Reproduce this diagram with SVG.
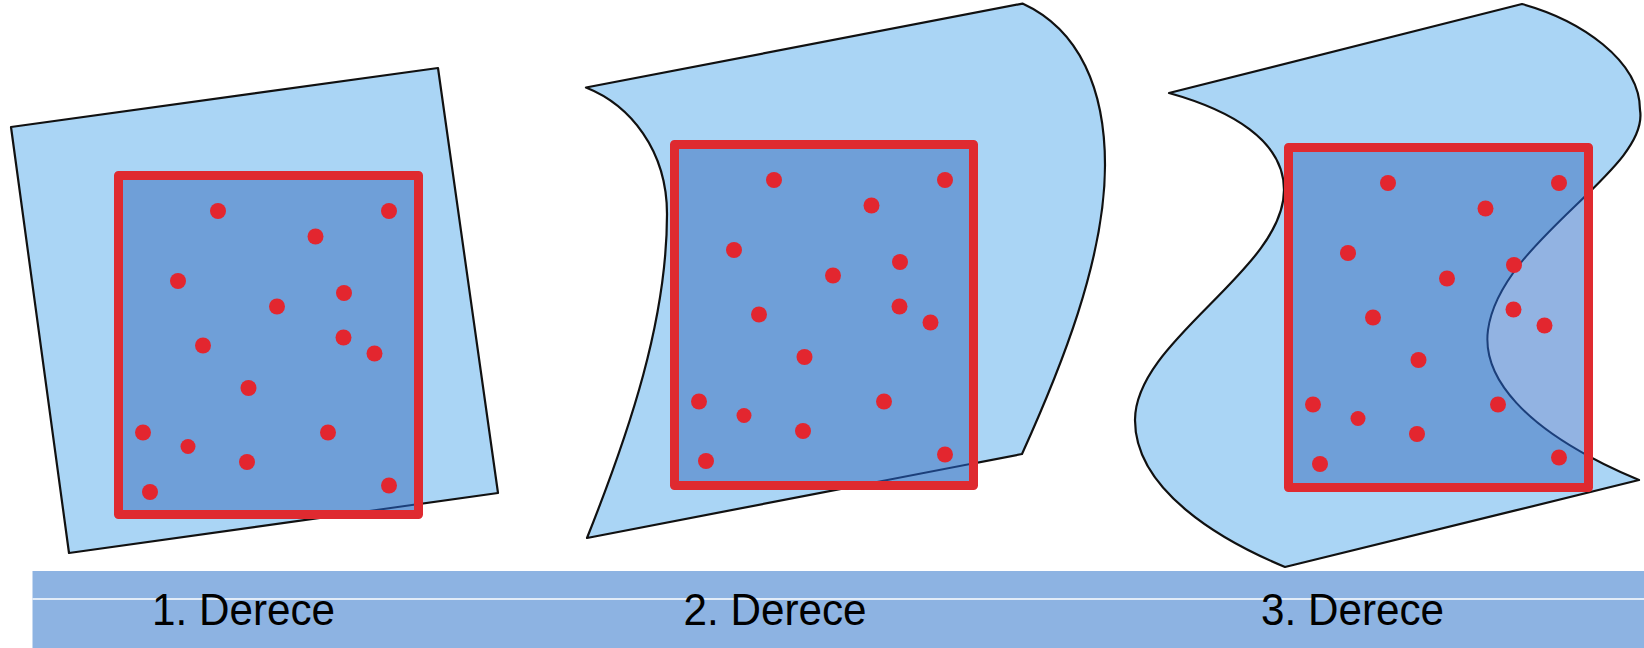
<svg xmlns="http://www.w3.org/2000/svg" width="1644" height="648" viewBox="0 0 1644 648">
<style>
.sheet{fill:#aad5f5;stroke:#111;stroke-width:2.2;stroke-linejoin:round}
.inner{fill:#6f9fd8;stroke:none}
.frame{fill:none;stroke:#df2a30;stroke-width:9;stroke-linejoin:round}
.edge{fill:none;stroke:#1c3f7a;stroke-width:2}
.light{fill:#92b3e2;stroke:none}
.dot{fill:#e3262f}
.label{font-family:"Liberation Sans",Arial,sans-serif;font-size:44px;fill:#000;text-anchor:middle}
</style>
<defs>
<g id="dots">
<circle class="dot" cx="99.5" cy="35.5" r="8"/>
<circle class="dot" cx="270.5" cy="35.5" r="8"/>
<circle class="dot" cx="197" cy="61" r="8"/>
<circle class="dot" cx="59.5" cy="105.5" r="8"/>
<circle class="dot" cx="225.5" cy="117.5" r="8"/>
<circle class="dot" cx="158.5" cy="131" r="8"/>
<circle class="dot" cx="84.5" cy="170" r="8"/>
<circle class="dot" cx="225" cy="162" r="8"/>
<circle class="dot" cx="256" cy="178" r="8"/>
<circle class="dot" cx="130" cy="212.5" r="8"/>
<circle class="dot" cx="24.5" cy="257" r="8"/>
<circle class="dot" cx="209.5" cy="257" r="8"/>
<circle class="dot" cx="69.5" cy="271" r="7.5"/>
<circle class="dot" cx="128.5" cy="286.5" r="8"/>
<circle class="dot" cx="31.5" cy="316.5" r="8"/>
<circle class="dot" cx="270.5" cy="310" r="8"/>
</g>
<clipPath id="c1"><rect x="118.5" y="175.5" width="300" height="339"/></clipPath>
<clipPath id="c2"><rect x="674.5" y="144.5" width="299" height="341"/></clipPath>
<clipPath id="c3"><rect x="1288.5" y="147.5" width="300" height="340"/></clipPath>
<path id="s1" d="M11,127 L438,68 L498,493 L69,553 Z"/>
<path id="s2" d="M586,87.5 L1022.5,3.6 C1080,30 1105,90 1105,165 C1105,260 1060,370 1022,454 L587,538 C630,430 667,320 667,214 C667,150 630,105 586,87.5 Z"/>
<path id="s3" d="M1169,93 L1522,4 C1580,20 1640,60 1640,110 C1650,170 1500,240 1488,330 C1482,375 1520,430 1639,480 L1285,567 C1220,540 1135,490 1135,420 C1135,340 1284,270 1284,190 C1284,140 1230,110 1169,93 Z"/>
</defs>

<g id="panel1">
<use href="#s1" class="sheet"/>
<rect class="inner" x="118.5" y="175.5" width="300" height="339"/>
<use href="#s1" class="edge" clip-path="url(#c1)"/>
<rect class="frame" x="118.5" y="175.5" width="300" height="339"/>
<use href="#dots" x="118.5" y="175.5"/>
</g>

<g id="panel2">
<use href="#s2" class="sheet"/>
<rect class="inner" x="674.5" y="144.5" width="299" height="341"/>
<use href="#s2" class="edge" clip-path="url(#c2)"/>
<rect class="frame" x="674.5" y="144.5" width="299" height="341"/>
<use href="#dots" x="674.5" y="144.5"/>
</g>

<g id="panel3">
<use href="#s3" class="sheet"/>
<rect class="inner" x="1288.5" y="147.5" width="300" height="340"/>
<path class="light" clip-path="url(#c3)" d="M1640,110 C1650,170 1500,240 1488,330 C1482,375 1520,430 1639,480 L1700,480 L1700,110 Z"/>
<use href="#s3" class="edge" clip-path="url(#c3)"/>
<rect class="frame" x="1288.5" y="147.5" width="300" height="340"/>
<use href="#dots" x="1288.5" y="147.5"/>
</g>

<g id="labels">
<rect x="32.5" y="571" width="1611.5" height="77" fill="#8db3e2"/>
<line x1="32.5" y1="599" x2="1644" y2="599" stroke="#ffffff" stroke-width="1.5"/>
<text class="label" x="243.5" y="625" textLength="183" lengthAdjust="spacingAndGlyphs">1. Derece</text>
<text class="label" x="775" y="625" textLength="183" lengthAdjust="spacingAndGlyphs">2. Derece</text>
<text class="label" x="1352.5" y="625" textLength="183" lengthAdjust="spacingAndGlyphs">3. Derece</text>
</g>
</svg>
